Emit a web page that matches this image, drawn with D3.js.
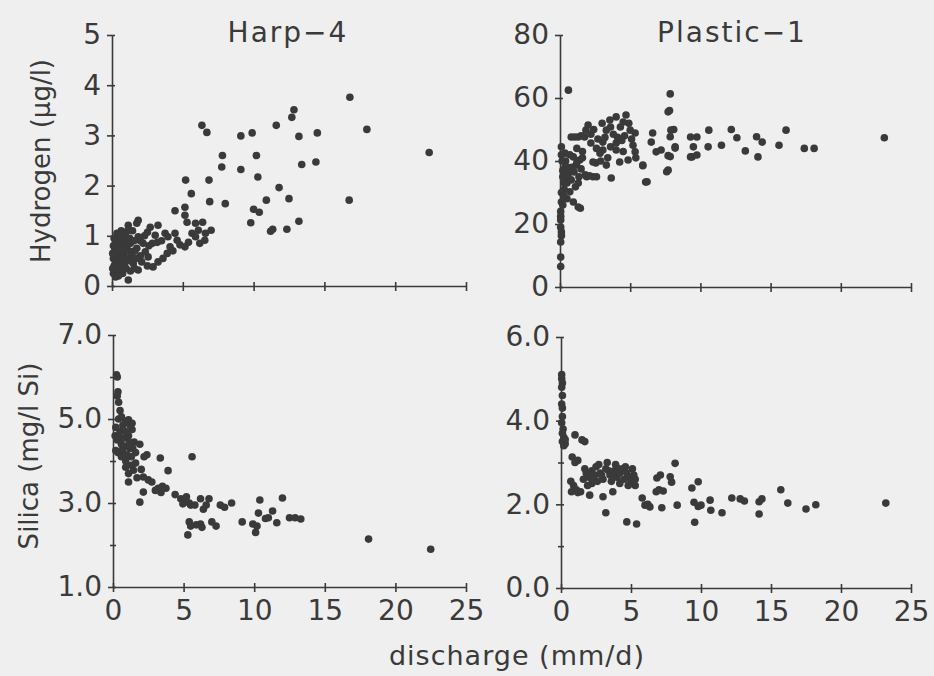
<!DOCTYPE html>
<html>
<head>
<meta charset="utf-8">
<script src="https://cdn.jsdelivr.net/npm/d3@7"></script>
<style>
  body { margin: 0; background: #efefef; }
  svg { display: block; }
</style>
</head>
<body>
<script>
// ---- data: [discharge mm/d, concentration] ----
const harpHydrogen = [
  [16.8,3.76],[18.0,3.12],[22.4,2.66],[16.75,1.71],
  [6.35,3.2],[6.7,3.06],[7.8,2.6],[7.75,2.37],[9.1,2.99],[9.9,3.05],[10.2,2.6],[9.1,2.32],[10.3,2.17],
  [6.85,2.11],[5.2,2.11],[5.6,1.84],[6.9,1.68],[8.0,1.64],
  [11.6,3.2],[12.7,3.36],[12.85,3.51],[13.2,2.98],[14.5,3.05],[13.4,2.42],[14.4,2.47],
  [11.8,1.96],[12.5,1.74],[10.9,1.71],[10.0,1.53],[10.4,1.47],[9.8,1.26],[13.2,1.29],[12.35,1.13],[11.35,1.13],[11.2,1.09],
  [5.15,1.57],[4.45,1.5],[5.15,1.41],[5.3,1.27],[5.9,1.25],[6.4,1.27],[7.0,1.11],[6.6,1.05],[6.1,1.11],[5.65,1.05],
  [5.9,0.98],[6.55,0.91],[6.2,0.85],[5.4,0.87],[5.15,0.78],[4.8,0.82],[4.45,1.05],[4.6,0.91],[3.95,0.98],[3.75,1.05],
  [3.9,0.65],[3.25,1.21],[2.7,1.17],[2.5,1.07],[3.05,1.01],[3.2,0.87],[2.85,0.85],[3.25,0.48],[2.9,0.38],[1.85,1.31],
  [1.75,1.25],[1.15,1.21],[0.8,1.05],[1.25,0.95],[1.85,0.98],[2.2,0.85],[1.75,0.75],[2.35,0.68],[2.55,0.58],[2.1,0.48],
  [1.85,0.32],[1.15,0.12],[0.35,1.05],
  [0.1,0.25],[0.2,0.3],[0.15,0.4],[0.3,0.35],[0.4,0.45],[0.25,0.5],[0.1,0.55],[0.5,0.3],[0.6,0.4],[0.7,0.5],
  [0.5,0.6],[0.35,0.65],[0.2,0.7],[0.1,0.8],[0.3,0.85],[0.55,0.8],[0.7,0.7],[0.85,0.6],[0.9,0.45],[1.0,0.35],
  [1.1,0.55],[1.2,0.7],[1.0,0.8],[0.8,0.9],[0.6,0.95],[0.4,0.95],[1.3,0.85],[1.4,0.6],[1.5,0.45],[1.3,0.3],
  [0.75,0.25],[0.45,0.2],[0.25,0.18],[0.05,0.35],[0.05,0.65],[1.6,0.7],[1.55,0.9],[1.7,0.55],[0.95,1.0],[0.15,0.95],
  [2.0,0.6],[0.65,1.1],[1.45,1.1],
  [0.9,0.7],[1.15,0.9],[0.75,0.85],[1.35,0.5],[1.6,0.35],[2.0,0.9],[2.3,1.0],[2.6,0.8],[3.5,0.9],[4.1,0.78],
  [4.3,0.7],[2.5,0.4],[3.6,0.55],[1.1,1.1]
]

const plasticHydrogen = [
  [0.6,62.5],[7.85,61.3],[7.8,56],[7.7,55.6],[8.1,50],[7.85,47.7],[8.2,44.5],[7.7,41.7],[7.6,36.6],[6.2,33.4],[5.9,38.5],
  [9.3,47.6],[9.75,47.6],[9.5,44.5],[9.4,41.3],[9.75,41.9],[10.6,49.8],[10.55,44.5],[11.5,45],[12.2,50],[12.6,47.4],
  [13.2,43.2],[14.0,47.7],[14.4,46],[14.1,41.3],[15.6,45],[16.1,49.8],[17.4,44],[18.1,44],[23.1,47.4],
  [4.7,54.6],[4.5,52.4],[3.55,53],[3.6,50.8],[4.3,50.8],[5.0,49.8],[5.35,48.9],[2.0,51.4],[1.85,49.8],[3.3,49.8],
  [1.05,47.6],[1.75,47.6],[2.2,45.7],[3.05,46],[3.05,43.5],[4.0,43.5],[4.0,45.7],[5.2,45],[5.35,42.9],[5.4,41],
  [4.85,40.3],[4.25,39.7],[3.3,38.7],[2.55,39.4],[2.35,39.7],[2.85,42.5],[3.65,34.6],[5.9,38.7],[6.1,33.3],[6.6,48.9],
  [6.5,46],[6.85,42.9],[7.2,43.5],[7.9,49.8],[8.2,44.1],[7.85,41.4],[7.7,37.1],[9.3,41.3],
  [4.9,52],[4.1,47.5],[4.6,48],[3.8,48.5],[2.7,47],[2.4,50],[3.0,52],[4.0,54],[3.4,41],[4.5,43],[5.1,47],[2.9,40],
  [0.95,41.3],[1.4,40.3],[1.15,38.7],[1.5,37.5],[1.8,35.6],[2.35,35],[2.6,35],[1.35,35],[1.1,31.8],[0.7,30.2],
  [0.95,27],[1.3,25.4],[1.45,25],[0.6,36],[0.8,34],[0.5,33],[0.4,40],[0.7,42],[1.2,44],[1.6,43],
  [0.55,38],[1.0,36.5],[0.3,31],[0.5,28],
  [0.1,44.5],[0.1,42],[0.15,40],[0.35,38],[0.2,35],[0.3,33],[0.1,30],[0.1,27],[0.05,24],[0.05,22.5],
  [0.05,21.3],[0.05,19],[0.1,17.5],[0.1,16.3],[0.05,14.3],[0.05,9.5],[0.05,6.5],[0.2,37],[0.25,29],[0.2,26],
  [0.8,47.6],[1.3,47.6],[1.5,48],[1.9,35],[2.1,35.3],[1.2,39.5],[0.85,38],[1.6,41],[2.6,44],[3.6,44.5],
  [4.4,46.5],[3.2,47.5],[2.2,48.5],[1.3,33],[0.45,35],[0.35,42.5]
]

const harpSilica = [
  [0.3,6.0],[0.25,6.05],[0.35,5.65],[0.3,5.55],[0.5,5.2],[0.4,5.0],[1.1,4.98],[1.35,4.9],[1.35,4.75],[1.1,4.6],
  [0.2,4.8],[0.5,4.7],[0.7,4.85],[0.9,4.7],[0.3,4.5],[0.6,4.4],[0.8,4.55],[1.0,4.35],[0.2,4.25],[0.5,4.2],
  [0.8,4.15],[1.2,4.3],[1.5,4.45],[0.35,4.2],[0.15,4.6],[1.3,4.1],[1.6,4.2],[0.9,4.0],
  [1.9,4.4],[2.4,4.15],[3.35,4.07],[3.9,3.77],[5.6,4.1],[1.1,3.7],[1.45,3.78],[1.1,3.5],[1.7,3.6],[2.15,3.62],
  [2.5,3.55],[2.75,3.5],[2.15,3.26],[1.9,3.02],[1.3,3.9],[1.6,3.95],[2.0,3.8],[2.2,4.1],[0.9,3.85],
  [3.2,3.35],[3.5,3.4],[3.75,3.35],[3.4,3.25],[3.0,3.3],[4.4,3.2],
  [4.8,3.1],[5.1,3.05],[5.4,3.0],[5.5,2.95],[5.8,2.95],[5.2,3.15],[4.95,2.98],
  [6.2,3.1],[6.8,3.1],[6.6,2.95],[6.4,2.85],[7.6,2.95],[7.9,2.9],[8.4,3.0],
  [5.4,2.55],[5.5,2.45],[5.9,2.48],[6.2,2.5],[6.3,2.42],[7.0,2.55],[7.3,2.45],
  [5.3,2.24],[9.15,2.55],[9.9,2.5],[10.2,2.45],[10.1,2.3],[10.4,3.07],[10.3,2.76],[10.8,2.63],[11.0,2.65],[11.3,2.81],
  [11.6,2.53],[12.0,3.12],[12.5,2.65],[12.9,2.65],[13.3,2.62],[18.1,2.14],[22.5,1.9],
  [0.4,5.4],[0.6,5.05],[0.9,4.95],[1.2,4.85],[0.45,4.55],[0.7,4.3],[1.0,4.15],[1.4,4.3],[1.15,4.45],[0.6,4.1]
]

const plasticSilica = [
  [0.05,5.1],[0.05,5.0],[0.1,4.9],[0.05,4.8],[0.1,4.6],[0.05,4.4],[0.1,4.3],[0.1,4.1],[0.05,3.95],[0.15,3.8],
  [0.1,3.7],[0.2,3.6],[0.1,3.5],[0.2,3.4],[0.3,3.45],
  [1.0,3.66],[1.5,3.54],[1.7,3.5],[0.8,3.13],[1.0,3.0],[1.2,3.05],
  [0.7,2.55],[0.9,2.45],[1.1,2.35],[0.75,2.3],[1.2,2.28],[1.4,2.3],
  [2.05,2.22],[3.0,2.18],[3.7,2.3],[3.2,1.8],[4.7,1.58],[5.4,1.53],
  [1.6,2.6],[1.8,2.75],[2.0,2.65],[2.2,2.8],[2.4,2.7],[2.6,2.55],[2.5,2.9],[2.8,2.75],[3.0,2.6],[3.2,2.85],
  [3.3,3.0],[3.5,2.7],[3.6,2.55],[3.8,2.8],[4.0,2.65],[4.2,2.75],[4.4,2.85],[4.5,2.6],[4.7,2.75],[4.9,2.65],
  [5.0,2.55],[5.2,2.7],[5.3,2.45],[4.8,2.45],[4.2,2.5],[2.2,2.5],[1.9,2.45],[2.7,2.95],[3.9,2.95],[5.1,2.85],
  [5.8,2.15],[6.0,1.98],[6.35,1.94],[6.85,2.63],[7.1,2.7],[6.8,2.3],[7.0,2.35],[7.3,2.32],[7.2,1.92],[7.8,2.66],
  [7.9,2.53],[8.15,2.98],[8.3,1.98],[9.35,2.39],[9.8,2.54],[9.5,2.05],[9.8,1.95],[10.0,1.98],[9.55,1.57],[10.65,2.1],
  [10.7,1.86],[11.5,1.8],[12.2,2.15],[12.8,2.13],[13.1,2.08],[14.15,2.06],[14.35,2.13],[14.15,1.77],[15.7,2.35],
  [16.2,2.03],[17.5,1.89],[18.2,1.99],[23.2,2.03],
  [1.7,2.85],[2.9,2.7],[3.4,2.8],[4.1,2.85],[4.6,2.9],[5.3,2.6],[2.3,2.6],[3.7,2.65],[6.2,2.0],[0.3,3.55]
]

// tick values
const xTicks = [0, 5, 10, 15, 20, 25]
const harpHTicks = [0, 1, 2, 3, 4, 5]
const plasticHTicks = [0, 20, 40, 60, 80]
const harpSiTicks = [1, 3, 5, 7]
const harpSiMinor = [2, 4, 6]
const plasticSiTicks = [0, 2, 4, 6]
const plasticSiMinor = [1, 3, 5]

const w = 934
const h = 676
const ink = "#3a3a3a"
const font = "'DejaVu Sans', sans-serif"

const svg = d3.select("body")
  .append("svg")
  .attr("width", w)
  .attr("height", h)

svg.append("rect")
  .attr("width", w)
  .attr("height", h)
  .attr("fill", "#efefef")

const panels = [
  { data: harpHydrogen, x: [112, 466], y: [286, 35], yDomain: [0, 5], yTicks: harpHTicks, yMinor: [],
    yFormat: d3.format("d"), xLabels: false, title: "Harp\u22124", titleX: 288 },
  { data: plasticHydrogen, x: [560, 911], y: [287, 35], yDomain: [0, 80], yTicks: plasticHTicks, yMinor: [],
    yFormat: d3.format("d"), xLabels: false, title: "Plastic\u22121", titleX: 732 },
  { data: harpSilica, x: [113, 466], y: [587, 335], yDomain: [1, 7], yTicks: harpSiTicks, yMinor: harpSiMinor,
    yFormat: d3.format(".1f"), xLabels: true },
  { data: plasticSilica, x: [561, 911], y: [588, 337], yDomain: [0, 6], yTicks: plasticSiTicks, yMinor: plasticSiMinor,
    yFormat: d3.format(".1f"), xLabels: true }
]

panels.forEach(p => {
  const xScale = d3.scaleLinear().domain([0, 25]).range(p.x)
  const yScale = d3.scaleLinear().domain(p.yDomain).range(p.y)
  const g = svg.append("g")

  // x axis, ticks crossing the line
  const xg = g.append("g")
    .attr("transform", "translate(0," + p.y[0] + ")")
    .call(d3.axisBottom(xScale).tickValues(xTicks).tickSize(5).tickSizeOuter(0).tickPadding(8)
      .tickFormat(p.xLabels ? d3.format("d") : ""))
  g.append("g")
    .attr("transform", "translate(0," + p.y[0] + ")")
    .call(d3.axisTop(xScale).tickValues(xTicks).tickSize(4).tickSizeOuter(0).tickFormat(""))
    .select(".domain").remove()

  // y axis
  const yg = g.append("g")
    .attr("transform", "translate(" + p.x[0] + ",0)")
    .call(d3.axisLeft(yScale).tickValues(p.yTicks).tickSize(5).tickSizeOuter(0).tickPadding(6).tickFormat(p.yFormat))
  g.append("g")
    .attr("transform", "translate(" + p.x[0] + ",0)")
    .call(d3.axisRight(yScale).tickValues(p.yTicks.concat(p.yMinor)).tickSize(3).tickSizeOuter(0).tickFormat(""))
    .select(".domain").remove()
  g.append("g")
    .attr("transform", "translate(" + p.x[0] + ",0)")
    .call(d3.axisLeft(yScale).tickValues(p.yMinor).tickSize(3).tickSizeOuter(0).tickFormat(""))
    .select(".domain").remove()

  g.selectAll(".domain, .tick line")
    .attr("stroke", ink)
    .attr("stroke-width", 1.6)
  ;[xg, yg].forEach(a => a.selectAll("text")
    .attr("fill", ink)
    .attr("font-family", font)
    .attr("font-size", 28))

  // the points
  g.selectAll("circle")
    .data(p.data)
    .enter()
    .append("circle")
    .attr("cx", d => xScale(d[0]))
    .attr("cy", d => yScale(d[1]))
    .attr("r", 3.8)
    .attr("fill", ink)

  if (p.title) {
    g.append("text")
      .attr("x", p.titleX)
      .attr("y", 42)
      .attr("text-anchor", "middle")
      .attr("font-family", font)
      .attr("font-size", 28)
      .attr("letter-spacing", 2)
      .attr("fill", ink)
      .text(p.title)
  }
})

// axis titles
svg.append("text")
  .attr("transform", "translate(50,161) rotate(-90)")
  .attr("text-anchor", "middle")
  .attr("font-family", font)
  .attr("font-size", 26)
  .attr("fill", ink)
  .text("Hydrogen (\u00b5g/l)")

svg.append("text")
  .attr("transform", "translate(38,456) rotate(-90)")
  .attr("text-anchor", "middle")
  .attr("font-family", font)
  .attr("font-size", 26)
  .attr("fill", ink)
  .text("Silica (mg/l Si)")

svg.append("text")
  .attr("x", 517)
  .attr("y", 665)
  .attr("text-anchor", "middle")
  .attr("font-family", font)
  .attr("font-size", 27)
  .attr("letter-spacing", 1)
  .attr("fill", ink)
  .text("discharge (mm/d)")
</script>
</body>
</html>
